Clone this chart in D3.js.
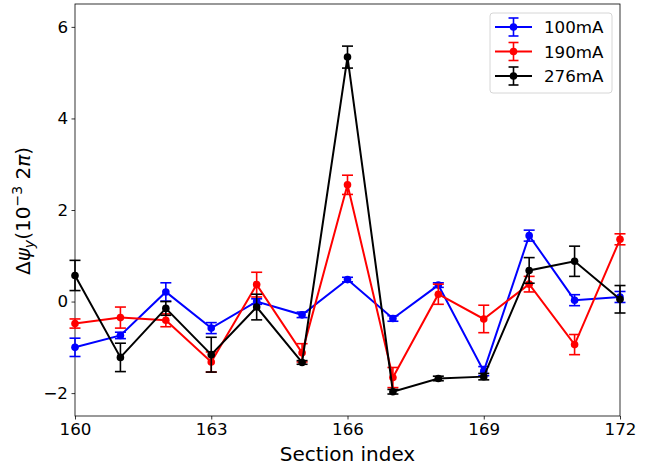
<!DOCTYPE html>
<html>
<head>
<meta charset="utf-8">
<script src="https://cdn.jsdelivr.net/npm/d3@7"></script>
<style>
  body { margin: 0; background: #fff; }
  text { font-family: "DejaVu Sans", sans-serif; }
</style>
</head>
<body>
<div id="chart"></div>
<script>
// data
const sections = [160, 161, 162, 163, 164, 165, 166, 167, 168, 169, 170, 171, 172];
const xTicks = [160, 163, 166, 169, 172];
const yTicks = [-2, 0, 2, 4, 6];

const vals100 = [-1.0, -0.74, 0.21, -0.58, 0.0, -0.29, 0.48, -0.37, 0.36, -1.52, 1.44, 0.03, 0.1];
const err100  = [0.2, 0.07, 0.2, 0.12, 0.06, 0.06, 0.05, 0.06, 0.05, 0.1, 0.12, 0.12, 0.12];
const vals190 = [-0.48, -0.35, -0.41, -1.32, 0.37, -1.12, 2.55, -1.66, 0.16, -0.38, 0.38, -0.94, 1.36];
const err190  = [0.1, 0.23, 0.14, 0.22, 0.27, 0.2, 0.21, 0.22, 0.22, 0.3, 0.17, 0.22, 0.12];
const vals276 = [0.57, -1.22, -0.15, -1.16, -0.12, -1.33, 5.34, -1.97, -1.68, -1.64, 0.68, 0.88, 0.05];
const err276  = [0.33, 0.31, 0.15, 0.38, 0.28, 0.04, 0.24, 0.05, 0.05, 0.07, 0.28, 0.33, 0.3];

const series = [
  { name: "100mA", color: "blue", vals: vals100, errs: err100 },
  { name: "190mA", color: "red", vals: vals190, errs: err190 },
  { name: "276mA", color: "black", vals: vals276, errs: err276 }
];

const W = 662, H = 468;
const margin = { top: 4, right: 42, bottom: 52, left: 75 };
const iw = W - margin.left - margin.right;
const ih = H - margin.top - margin.bottom;

const svg = d3.select("#chart").append("svg")
  .attr("width", W)
  .attr("height", H);

const g = svg.append("g")
  .attr("transform", `translate(${margin.left},${margin.top})`);

const x = d3.scaleLinear().domain([160, 172]).range([0, iw]);
const y = d3.scaleLinear().domain([-2.5, 6.5]).range([ih, 0]);

// axes
const xAxis = g.append("g")
  .attr("transform", `translate(0,${ih})`)
  .call(d3.axisBottom(x).tickValues(xTicks).tickFormat(d3.format("d")).tickSize(3.5).tickPadding(3.5));
const yAxis = g.append("g")
  .call(d3.axisLeft(y).tickValues(yTicks).tickFormat(d => d < 0 ? "\u2212" + Math.abs(d) : d).tickSize(3.5).tickPadding(3.5));

[xAxis, yAxis].forEach(a => {
  a.select(".domain").remove();
  a.selectAll("line").attr("stroke", "#000").attr("stroke-width", 0.8);
  a.selectAll("text").attr("font-size", 16.7).attr("fill", "#000")
    .style("font-family", "DejaVu Sans");
});

// frame
g.append("rect")
  .attr("width", iw).attr("height", ih)
  .attr("fill", "none").attr("stroke", "#000").attr("stroke-width", 0.8);

// series
const line = d3.line().x(d => x(d.s)).y(d => y(d.v));
const capW = 5.5;

series.forEach(s => {
  const pts = sections.map((sec, i) => ({ s: sec, v: s.vals[i], e: s.errs[i] }));
  const sg = g.append("g");

  sg.append("path")
    .datum(pts)
    .attr("d", line)
    .attr("fill", "none")
    .attr("stroke", s.color)
    .attr("stroke-width", 2);

  const eb = sg.selectAll("g.err").data(pts).enter().append("g").attr("class", "err")
    .attr("stroke", s.color).attr("stroke-width", 1.6);
  eb.append("line")
    .attr("x1", d => x(d.s)).attr("x2", d => x(d.s))
    .attr("y1", d => y(d.v - d.e)).attr("y2", d => y(d.v + d.e));
  eb.append("line")
    .attr("x1", d => x(d.s) - capW).attr("x2", d => x(d.s) + capW)
    .attr("y1", d => y(d.v + d.e)).attr("y2", d => y(d.v + d.e));
  eb.append("line")
    .attr("x1", d => x(d.s) - capW).attr("x2", d => x(d.s) + capW)
    .attr("y1", d => y(d.v - d.e)).attr("y2", d => y(d.v - d.e));

  sg.selectAll("circle").data(pts).enter().append("circle")
    .attr("cx", d => x(d.s)).attr("cy", d => y(d.v))
    .attr("r", 3.8)
    .attr("fill", s.color);
});

// legend
const lg = g.append("g").attr("transform", `translate(${iw - 130},9)`);
lg.append("rect")
  .attr("width", 122).attr("height", 80)
  .attr("rx", 3)
  .attr("fill", "#fff").attr("fill-opacity", 0.8)
  .attr("stroke", "#ccc").attr("stroke-width", 0.8);

series.forEach((s, i) => {
  const ly = 14 + i * 24.5;
  const it = lg.append("g").attr("transform", `translate(0,${ly})`)
    .attr("stroke", s.color);
  it.append("line").attr("x1", 5).attr("x2", 42).attr("y1", 0).attr("y2", 0).attr("stroke-width", 2);
  it.append("line").attr("x1", 23.5).attr("x2", 23.5).attr("y1", -9).attr("y2", 9).attr("stroke-width", 1.6);
  it.append("line").attr("x1", 18.5).attr("x2", 28.5).attr("y1", -9).attr("y2", -9).attr("stroke-width", 1.6);
  it.append("line").attr("x1", 18.5).attr("x2", 28.5).attr("y1", 9).attr("y2", 9).attr("stroke-width", 1.6);
  it.append("circle").attr("cx", 23.5).attr("cy", 0).attr("r", 3.8).attr("fill", s.color).attr("stroke", "none");
  lg.append("text")
    .attr("x", 54).attr("y", ly + 6)
    .attr("font-size", 16.7)
    .text(s.name);
});

// axis labels
svg.append("text")
  .attr("x", margin.left + iw / 2)
  .attr("y", 461)
  .attr("text-anchor", "middle")
  .attr("font-size", 20)
  .text("Section index");

const yl = svg.append("text")
  .attr("transform", `translate(30,211) rotate(-90)`)
  .attr("text-anchor", "middle")
  .attr("font-size", 20);
yl.append("tspan").text("\u0394");
yl.append("tspan").attr("font-style", "italic").text("\u03c8");
yl.append("tspan").attr("font-style", "italic").attr("font-size", 14).attr("dy", 4).text("y");
yl.append("tspan").attr("dy", -4).text("(10");
yl.append("tspan").attr("font-size", 14).attr("dy", -8).text("\u22123");
yl.append("tspan").attr("dy", 8).text(" 2");
yl.append("tspan").attr("font-style", "italic").text("\u03c0");
yl.append("tspan").text(")");
</script>
</body>
</html>
